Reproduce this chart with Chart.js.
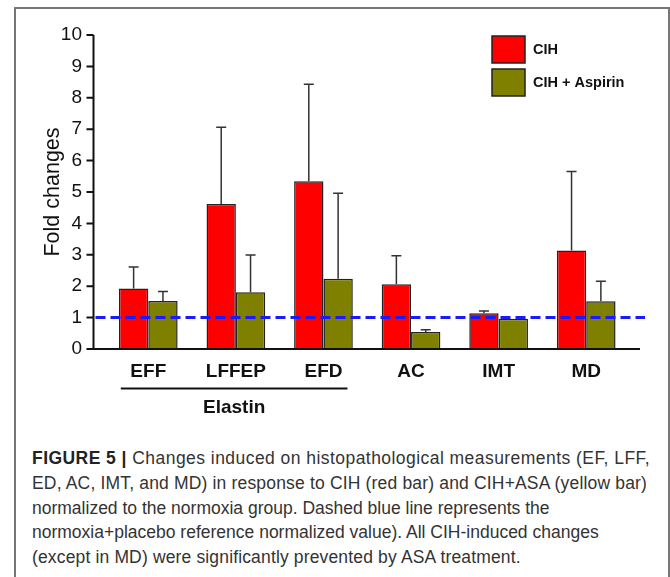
<!DOCTYPE html>
<html>
<head>
<meta charset="utf-8">
<script src="https://cdn.jsdelivr.net/npm/chart.js@4.4.0/dist/chart.umd.min.js"></script>
<style>
body { margin: 0; background: #fff; }
#wrap { position: relative; width: 670px; height: 577px; overflow: hidden; }
#frame { position: absolute; left: 14px; top: 7px; width: 652px; height: 620px; border: 2px solid #777; }
#box { position: absolute; left: 0; top: 0; width: 670px; height: 430px; }
#caption { position: absolute; left: 32px; top: 446px; font-family: "Liberation Sans", Arial, sans-serif;
  font-size: 17.5px; line-height: 24.75px; color: #333; white-space: nowrap; }
#caption b { color: #222; }
</style>
</head>
<body>
<div id="wrap">
  <div id="frame"></div>
  <div id="box"><canvas id="chart"></canvas></div>
  <div id="caption">
    <div style="letter-spacing:0.45px"><b>FIGURE 5 |</b> Changes induced on histopathological measurements (EF, LFF,</div>
    <div style="letter-spacing:0.17px">ED, AC, IMT, and MD) in response to CIH (red bar) and CIH+ASA (yellow bar)</div>
    <div>normalized to the normoxia group. Dashed blue line represents the</div>
    <div>normoxia+placebo reference normalized value). All CIH-induced changes</div>
    <div style="letter-spacing:0.15px">(except in MD) were significantly prevented by ASA treatment.</div>
  </div>
</div>
<script>
// values
var categories = ['EFF', 'LFFEP', 'EFD', 'AC', 'IMT', 'MD'];
var cihValues = [1.93, 4.62, 5.34, 2.06, 1.14, 3.14];
var cihErrors = [0.68, 2.44, 3.09, 0.91, 0.07, 2.51];
var aspirinValues = [1.53, 1.81, 2.24, 0.54, 0.96, 1.52];
var aspirinErrors = [0.30, 1.18, 2.72, 0.07, 0, 0.64];
var referenceValue = 1;
var groupLabel = 'Elastin';
var groupFirst = 0, groupLast = 2;

var FONT = '"Liberation Sans", Arial, sans-serif';

// axis lines drawn a bit outside the category area, like the original
var axesPlugin = {
    id: 'axesLines',
    afterDraw: function (chart) {
        var ctx = chart.ctx, a = chart.chartArea, y = chart.scales.y;
        var ax = a.left - 11;
        ctx.save();
        ctx.strokeStyle = '#111';
        ctx.lineWidth = 2;
        ctx.beginPath();
        ctx.moveTo(ax, y.getPixelForValue(10));
        ctx.lineTo(ax, y.getPixelForValue(0));
        ctx.lineTo(a.right + 10, y.getPixelForValue(0));
        for (var v = 0; v <= 10; v++) {
            ctx.moveTo(ax - 7, y.getPixelForValue(v));
            ctx.lineTo(ax, y.getPixelForValue(v));
        }
        ctx.stroke();
        ctx.restore();
    }
};

var errorBarsPlugin = {
    id: 'errorBars',
    afterDatasetsDraw: function (chart) {
        var ctx = chart.ctx, y = chart.scales.y;
        ctx.save();
        ctx.strokeStyle = '#333';
        ctx.lineWidth = 1.5;
        chart.data.datasets.forEach(function (ds, di) {
            var meta = chart.getDatasetMeta(di);
            meta.data.forEach(function (bar, i) {
                var err = ds.errors[i];
                if (!err) return;
                var top = y.getPixelForValue(ds.data[i] + err);
                ctx.beginPath();
                ctx.moveTo(bar.x, bar.y);
                ctx.lineTo(bar.x, top);
                ctx.moveTo(bar.x - 5, top);
                ctx.lineTo(bar.x + 5, top);
                ctx.stroke();
            });
        });
        // dashed reference line
        var a = chart.chartArea;
        var ry = y.getPixelForValue(referenceValue);
        ctx.strokeStyle = '#1a1aff';
        ctx.lineWidth = 3;
        ctx.setLineDash([10, 5]);
        ctx.beginPath();
        ctx.moveTo(a.left - 9, ry);
        ctx.lineTo(a.right + 15, ry);
        ctx.stroke();
        ctx.restore();
    }
};

var groupPlugin = {
    id: 'groupLabel',
    afterDraw: function (chart) {
        var ctx = chart.ctx, x = chart.scales.x;
        var x1 = x.getPixelForValue(groupFirst) - 27.5;
        var x2 = x.getPixelForValue(groupLast) + 24;
        ctx.save();
        ctx.strokeStyle = '#111';
        ctx.lineWidth = 2;
        ctx.beginPath();
        ctx.moveTo(x1, 388.5);
        ctx.lineTo(x2, 388.5);
        ctx.stroke();
        ctx.fillStyle = '#111';
        ctx.font = 'bold 19px ' + FONT;
        ctx.textAlign = 'center';
        ctx.textBaseline = 'middle';
        ctx.fillText(groupLabel, (x1 + x2) / 2, 408);
        ctx.restore();
    }
};

var legendPlugin = {
    id: 'boxLegend',
    afterDraw: function (chart) {
        var ctx = chart.ctx;
        ctx.save();
        chart.data.datasets.forEach(function (ds, i) {
            var top = 36 + i * 33;
            ctx.fillStyle = ds.backgroundColor;
            ctx.fillRect(492, top, 33, 27);
            ctx.strokeStyle = '#222';
            ctx.lineWidth = 1.5;
            ctx.strokeRect(492, top, 33, 27);
            ctx.fillStyle = '#111';
            ctx.font = 'bold 14.5px ' + FONT;
            ctx.textBaseline = 'middle';
            ctx.fillText(ds.label, 533, top + 14);
        });
        ctx.restore();
    }
};

var chartdata = {
    labels: categories,
    datasets: [
        {
            label: 'CIH',
            data: cihValues,
            errors: cihErrors,
            backgroundColor: '#ff0000',
            borderColor: '#222',
            borderWidth: 1.5
        },
        {
            label: 'CIH + Aspirin',
            data: aspirinValues,
            errors: aspirinErrors,
            backgroundColor: '#808000',
            borderColor: '#222',
            borderWidth: 1.5
        }
    ]
};

new Chart(document.getElementById('chart'), {
    type: 'bar',
    data: chartdata,
    options: {
        responsive: true,
        maintainAspectRatio: false,
        animation: false,
        events: [],
        categoryPercentage: 0.67,
        barPercentage: 1,
        layout: { padding: { left: 0, top: 35, right: 40, bottom: 0 } },
        plugins: { legend: { display: false }, tooltip: { enabled: false } },
        scales: {
            x: {
                grid: { display: false },
                border: { display: false },
                ticks: { color: '#111', padding: 3, font: { family: FONT, size: 19, weight: 'bold' } },
                afterFit: function (s) { s.height = 81; }
            },
            y: {
                min: 0,
                max: 10,
                grid: { display: false },
                border: { display: false },
                ticks: { stepSize: 1, color: '#111', padding: 14.5, font: { family: FONT, size: 19 } },
                title: { display: true, text: 'Fold changes', color: '#111',
                         font: { family: FONT, size: 21.5 }, padding: { top: 40, bottom: 0 } },
                afterFit: function (s) { s.width = 104.5; }
            }
        }
    },
    plugins: [axesPlugin, errorBarsPlugin, groupPlugin, legendPlugin]
});
</script>
</body>
</html>
